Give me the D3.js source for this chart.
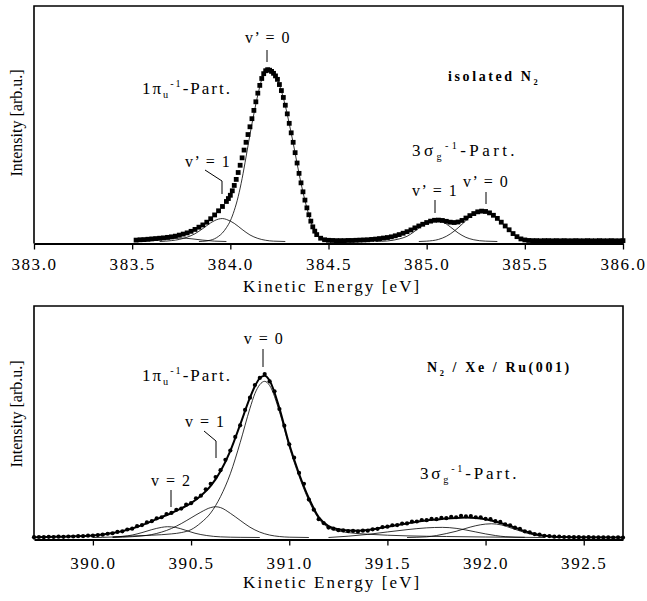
<!DOCTYPE html>
<html>
<head>
<meta charset="utf-8">
<script src="https://cdn.jsdelivr.net/npm/d3@7"></script>
<style>
  body { margin: 0; background: #fff; }
  svg { display: block; }
  text { font-family: "Liberation Serif", "Times New Roman", serif; fill: #000; }
</style>
</head>
<body>
<div id="chart"></div>
<script>
// ---- isolated N2 (top panel) : measured points [energy eV, intensity]
var topData = [
  [383.52,0.8],[383.54,1.0],[383.56,1.1],[383.58,1.3],[383.60,1.5],[383.62,1.7],[383.64,1.9],[383.66,2.1],
  [383.68,2.4],[383.70,2.7],[383.72,3.1],[383.74,3.7],[383.76,4.3],[383.78,5.0],[383.80,5.9],[383.82,7.0],
  [383.84,8.3],[383.86,9.6],[383.88,11.2],[383.90,13.2],[383.92,15.4],[383.94,17.8],[383.96,20.3],
  [383.98,23.2],[383.99,24.9],[384.00,26.8],[384.01,29.4],[384.02,32.5],[384.03,36.0],[384.04,40.0],
  [384.05,44.2],[384.06,48.5],[384.07,53.0],[384.08,57.5],[384.09,62.0],[384.10,66.5],[384.11,71.2],
  [384.12,76.0],[384.13,81.0],[384.14,86.0],[384.15,90.5],[384.16,94.5],[384.17,97.3],[384.18,99.0],
  [384.19,99.6],[384.20,99.3],[384.21,98.6],[384.22,97.5],[384.23,96.0],[384.24,94.0],[384.25,91.0],
  [384.26,87.5],[384.27,83.5],[384.28,79.0],[384.29,74.0],[384.30,68.5],[384.31,63.0],[384.32,57.5],
  [384.33,51.5],[384.34,45.5],[384.35,39.5],[384.36,34.0],[384.37,28.8],[384.38,24.0],[384.39,19.5],
  [384.40,15.5],[384.41,11.8],[384.42,8.5],[384.43,6.0],[384.44,4.0],[384.46,1.9],[384.48,1.0],
  [384.50,0.7],[384.52,0.6],[384.54,0.5],[384.56,0.5],[384.58,0.5],[384.60,0.6],[384.62,0.6],[384.64,0.7],
  [384.66,0.8],[384.68,0.9],[384.70,1.0],[384.72,1.2],[384.74,1.4],[384.76,1.7],[384.78,2.0],[384.80,2.3],
  [384.82,2.7],[384.84,3.3],[384.86,4.0],[384.88,4.8],[384.90,5.7],[384.92,6.7],[384.94,7.9],[384.96,9.0],
  [384.98,10.0],[385.00,11.0],[385.02,11.8],[385.04,12.3],[385.06,12.4],[385.08,12.2],[385.10,11.7],
  [385.12,11.2],[385.14,11.0],[385.16,11.3],[385.18,12.2],[385.20,13.6],[385.22,15.0],[385.24,16.2],
  [385.26,17.2],[385.28,17.6],[385.30,17.4],[385.32,16.6],[385.34,15.2],[385.36,13.4],[385.38,11.2],
  [385.40,9.0],[385.42,6.8],[385.44,4.6],[385.46,2.8],[385.48,1.5],[385.50,0.9],[385.52,0.6],[385.54,0.5],
  [385.56,0.5],[385.58,0.4],[385.60,0.5],[385.62,0.5],[385.64,0.4],[385.66,0.5],[385.68,0.4],[385.70,0.5],
  [385.72,0.4],[385.74,0.4],[385.76,0.5],[385.78,0.4],[385.80,0.4],[385.82,0.5],[385.84,0.4],[385.86,0.4],
  [385.88,0.5],[385.90,0.4],[385.92,0.4],[385.94,0.5],[385.96,0.4],[385.98,0.4],[386.00,0.5]
];
// fitted components, top panel
var topPiV0 = [[383.84,0],[383.88,0.3],[383.90,0.8],[383.92,1.6],[383.94,3.0],[383.96,5.0],[383.98,8.0],
  [384.00,12.0],[384.02,18.0],[384.04,26.0],[384.06,36.5],[384.08,49],[384.10,62],[384.12,74],[384.14,85],
  [384.16,94],[384.18,98.8],[384.20,99.2],[384.22,97.4],[384.24,93.8],[384.26,87.3],[384.28,78.8],
  [384.30,68.3],[384.32,57.2],[384.34,45.2],[384.36,33.8],[384.38,23.8],[384.40,15.3],[384.42,8.3],
  [384.44,3.8],[384.46,1.5],[384.48,0.5],[384.52,0]];
var topPiV1 = [[383.64,0],[383.70,0.5],[383.74,1.2],[383.78,2.5],[383.82,4.5],[383.86,7.5],[383.90,10.8],
  [383.94,13.0],[383.96,13.3],[383.98,12.8],[384.02,10.5],[384.06,7.0],[384.10,3.8],[384.14,1.8],
  [384.18,0.7],[384.22,0.2],[384.28,0]];
var topPiV2 = [[383.52,0],[383.58,0.3],[383.64,0.9],[383.70,1.6],[383.75,2.0],[383.80,1.6],[383.86,0.8],
  [383.92,0.2],[383.98,0]];
var topSigV1 = [[384.74,0],[384.80,0.3],[384.86,1.5],[384.90,3.0],[384.94,6.0],[384.98,9.5],[385.02,11.8],
  [385.05,12.2],[385.08,11.5],[385.12,8.5],[385.16,5.0],[385.20,2.4],[385.24,1.0],[385.30,0.2],[385.36,0]];
var topSigV0 = [[384.96,0],[385.00,0.2],[385.06,1.2],[385.10,3.0],[385.14,6.0],[385.18,10.0],[385.22,14.2],
  [385.26,16.9],[385.29,17.4],[385.32,16.5],[385.36,13.2],[385.40,8.8],[385.44,4.4],[385.48,1.4],
  [385.52,0.3],[385.56,0]];

// ---- N2 / Xe / Ru(001) (bottom panel)
var botData = [
  [389.700,0.2],[389.725,0.3],[389.750,0.2],[389.775,0.4],[389.800,0.3],[389.825,0.5],[389.850,0.4],
  [389.875,0.6],[389.900,0.6],[389.925,0.8],[389.950,0.8],[389.975,1.1],[390.000,1.1],[390.025,1.5],
  [390.050,1.7],[390.075,2.3],[390.100,2.6],[390.125,3.4],[390.150,3.8],[390.175,4.9],[390.200,5.4],
  [390.225,6.9],[390.250,7.6],[390.275,9.2],[390.300,10.0],[390.325,11.7],[390.350,12.4],[390.375,14.3],
  [390.400,15.0],[390.425,16.9],[390.450,17.7],[390.475,20.1],[390.500,21.0],[390.525,24.0],[390.550,25.6],
  [390.575,29.5],[390.600,32.8],[390.625,37.0],[390.650,41.2],[390.675,47.5],[390.700,53.2],[390.725,61.5],
  [390.750,68.6],[390.775,78.0],[390.800,85.5],[390.825,93.2],[390.850,97.6],[390.875,100],[390.900,95.5],
  [390.925,89.4],[390.950,78.6],[390.975,68.4],[391.000,57.0],[391.025,48.8],[391.050,39.5],[391.075,32.8],
  [391.100,23.2],[391.125,17.0],[391.150,11.2],[391.175,8.8],[391.200,6.1],[391.225,5.4],[391.250,4.5],
  [391.275,4.4],[391.300,3.9],[391.325,4.0],[391.350,3.7],[391.375,4.2],[391.400,4.2],[391.425,5.0],
  [391.450,5.3],[391.475,6.4],[391.500,6.6],[391.525,7.5],[391.550,7.6],[391.575,8.5],[391.600,8.6],
  [391.625,9.7],[391.650,9.8],[391.675,10.7],[391.700,10.6],[391.725,11.4],[391.750,11.2],[391.775,12.0],
  [391.800,11.8],[391.825,12.7],[391.850,12.4],[391.875,13.3],[391.900,12.9],[391.925,13.1],[391.950,12.4],
  [391.975,12.4],[392.000,11.4],[392.025,11.2],[392.050,10.0],[392.075,9.5],[392.100,8.1],[392.125,7.5],
  [392.150,6.0],[392.175,5.3],[392.200,3.8],[392.225,3.2],[392.250,2.1],[392.275,1.7],[392.300,1.0],
  [392.325,0.9],[392.350,0.5],[392.375,0.5],[392.400,0.3],[392.425,0.3],[392.450,0.2],[392.475,0.2],
  [392.500,0.1],[392.525,0.2],[392.550,0.1],[392.575,0.1],[392.600,0.1],[392.625,0.1],[392.650,0.0],
  [392.675,0.1],[392.700,0.0]
];
// total fit curve, bottom panel
var botFit = [[389.70,0.2],[389.75,0.3],[389.80,0.4],[389.85,0.5],[389.90,0.7],[389.95,0.9],[390.00,1.2],
  [390.05,1.8],[390.10,2.7],[390.15,3.9],[390.20,5.5],[390.25,7.6],[390.30,10.0],[390.35,12.5],[390.40,15.0],
  [390.45,17.8],[390.50,21.0],[390.55,25.5],[390.60,31.5],[390.65,40.5],[390.70,53],[390.75,69],[390.80,85.5],
  [390.825,92.5],[390.85,97.5],[390.875,99],[390.90,96],[390.95,79],[391.00,57],[391.05,39],[391.10,24],
  [391.15,12.5],[391.20,7.0],[391.25,5.0],[391.30,4.3],[391.35,4.2],[391.40,4.6],[391.45,5.5],[391.50,6.6],
  [391.55,7.6],[391.60,8.6],[391.65,9.6],[391.70,10.4],[391.75,11.0],[391.80,11.6],[391.85,12.0],[391.90,12.2],
  [391.95,12.0],[392.00,11.2],[392.05,9.8],[392.10,8.0],[392.15,6.0],[392.20,3.9],[392.25,2.2],[392.30,1.1],
  [392.35,0.5],[392.40,0.3],[392.50,0.1],[392.70,0]];
var botPiV0 = [[390.10,0.4],[390.20,0.9],[390.30,1.4],[390.40,2.2],[390.45,3.0],[390.50,4.8],[390.55,9.0],
  [390.60,15],[390.65,25],[390.70,39],[390.75,58],[390.80,79],[390.825,88],[390.85,93.5],[390.875,95.5],
  [390.90,93],[390.95,77],[391.00,55.5],[391.05,37.5],[391.10,22.5],[391.15,11.5],[391.20,6.0],[391.25,4.0],
  [391.30,3.0],[391.40,2.0],[391.50,1.4],[391.60,1.0],[391.80,0.6],[392.00,0.3],[392.20,0.1]];
var botPiV1 = [[390.10,0],[390.20,0.5],[390.30,1.8],[390.40,5.5],[390.45,8.5],[390.50,12],[390.55,15.5],
  [390.60,18.3],[390.625,18.8],[390.65,18.3],[390.70,14.8],[390.75,10.5],[390.80,6.3],[390.85,3.3],
  [390.90,1.5],[390.95,0.6],[391.00,0.2],[391.10,0]];
var botPiV2 = [[390.00,0],[390.10,0.3],[390.20,1.5],[390.25,3.0],[390.30,4.8],[390.35,6.2],[390.38,6.6],
  [390.42,6.2],[390.47,4.5],[390.52,2.6],[390.58,1.2],[390.65,0.4],[390.75,0.1],[390.85,0]];
var botSigA = [[391.20,0],[391.30,0.8],[391.40,1.9],[391.50,3.4],[391.60,4.8],[391.70,5.9],[391.78,6.2],
  [391.85,5.6],[391.90,4.6],[391.95,3.4],[392.00,2.2],[392.05,1.2],[392.10,0.5],[392.20,0.1],[392.30,0]];
var botSigB = [[391.60,0],[391.70,0.4],[391.75,1.2],[391.80,2.4],[391.85,3.8],[391.90,5.6],[391.95,7.2],
  [392.00,8.2],[392.03,8.4],[392.08,7.7],[392.13,5.8],[392.18,3.8],[392.23,2.0],[392.30,0.7],[392.40,0.1],
  [392.50,0]];

// tick values
var topMajor = [383.0, 383.5, 384.0, 384.5, 385.0, 385.5, 386.0];
var topMinor = [383.25, 383.75, 384.25, 384.75, 385.25, 385.75];
var botMajor = [390.0, 390.5, 391.0, 391.5, 392.0, 392.5];
var botMinor = [389.75, 390.25, 390.75, 391.25, 391.75, 392.25];

var W = 647, H = 601;
var svg = d3.select("#chart").append("svg").attr("width", W).attr("height", H);
svg.append("rect").attr("width", W).attr("height", H).attr("fill", "#fff");

function panel(p) {
  var x = d3.scaleLinear().domain(p.xDomain).range([34, 623]);
  var y = d3.scaleLinear().domain([0, 100]).range([p.zeroY, p.peakY]);
  var g = svg.append("g");

  // frame
  g.append("path")
    .attr("d", "M34," + p.axisY + "V" + p.frameTop + "H623V" + p.axisY)
    .attr("fill", "none").attr("stroke", "#000").attr("stroke-width", 1.6);

  var line = d3.line().x(function(d) { return x(d[0]); }).y(function(d) { return y(d[1]); })
    .curve(d3.curveMonotoneX);

  // data markers
  if (p.marker == "square") {
    g.selectAll("rect.pt").data(p.data).enter().append("rect")
      .attr("x", function(d) { return x(d[0]) - 2.4; })
      .attr("y", function(d) { return y(d[1]) - 2.4; })
      .attr("width", 4.8).attr("height", 4.8).attr("fill", "#000");
  } else {
    g.selectAll("circle.pt").data(p.data).enter().append("circle")
      .attr("cx", function(d) { return x(d[0]); })
      .attr("cy", function(d) { return y(d[1]); })
      .attr("r", 2.1).attr("fill", "#000");
  }
  if (p.fit) {
    g.append("path").datum(p.fit).attr("d", line)
      .attr("fill", "none").attr("stroke", "#000").attr("stroke-width", 2);
  }
  // components
  p.comps.forEach(function(c) {
    g.append("path").datum(c).attr("d", line)
      .attr("fill", "none").attr("stroke", "#000").attr("stroke-width", 0.8);
  });

  // x axis
  var ax = g.append("g").attr("transform", "translate(0," + p.axisY + ")");
  ax.call(d3.axisBottom(x).tickValues(p.minor).tickSize(4).tickSizeOuter(0).tickFormat(""));
  ax.call(d3.axisBottom(x).tickValues(p.major).tickSize(6).tickSizeOuter(0).tickPadding(p.pad)
    .tickFormat(d3.format(".1f")));
  ax.selectAll(".domain").attr("stroke-width", 2.2);
  ax.selectAll(".tick line").attr("stroke-width", 1.3);
  ax.selectAll(".tick text").attr("font-size", 17).style("letter-spacing", "1.6px")
    .attr("font-family", null);

  g.append("text").attr("x", 243).attr("y", p.titleY).attr("font-size", 17)
    .style("letter-spacing", "2.1px").text("Kinetic Energy [eV]");
  g.append("text").attr("transform", "translate(22," + p.yTitleY + ") rotate(-90)")
    .attr("text-anchor", "middle").attr("font-size", 16).text("Intensity [arb.u.]");
  return g;
}

// label with sub/superscripts: parts = [text, kind]
function rich(g, xx, yy, parts, size, ls, bold) {
  var t = g.append("text").attr("x", xx).attr("y", yy).attr("font-size", size)
    .style("letter-spacing", ls + "px");
  if (bold) t.attr("font-weight", "bold");
  var shift = 0;
  parts.forEach(function(pt) {
    var target = pt[1] == "sub" ? 4 : pt[1] == "sup" ? -7 : 0;
    var s = t.append("tspan").attr("dy", target - shift).text(pt[0]);
    if (pt[1]) s.attr("font-size", size * 0.6);
    shift = target;
  });
  return t;
}
function tick(g, pts) {
  g.append("path").attr("d", d3.line()(pts)).attr("fill", "none")
    .attr("stroke", "#000").attr("stroke-width", 1);
}

var gTop = panel({ xDomain: [383, 386], zeroY: 241.5, peakY: 69, frameTop: 6, axisY: 243.5,
  data: topData, marker: "square", comps: [topPiV0, topPiV1, topPiV2, topSigV1, topSigV0],
  major: topMajor, minor: topMinor, pad: 8, titleY: 292, yTitleY: 123 });

var gBot = panel({ xDomain: [389.7, 392.7], zeroY: 537.5, peakY: 374, frameTop: 306, axisY: 539.5,
  data: botData, marker: "circle", fit: botFit, comps: [botPiV0, botPiV1, botPiV2, botSigA, botSigB],
  major: botMajor, minor: botMinor, pad: 11, titleY: 588, yTitleY: 414 });

// annotations, top
gTop.append("text").attr("x", 268).attr("y", 43).attr("text-anchor", "middle").attr("font-size", 16)
  .style("letter-spacing", "1.5px").text("v\u2019 = 0");
tick(gTop, [[267, 50], [267, 62]]);
rich(gTop, 142, 94, [["1\u03c0"], ["u", "sub"], ["-1", "sup"], ["-Part."]], 17, 2);
gTop.append("text").attr("x", 185).attr("y", 167).attr("font-size", 16)
  .style("letter-spacing", "1.5px").text("v\u2019 = 1");
tick(gTop, [[205, 170], [222, 181], [222, 194]]);
rich(gTop, 448, 81, [["isolated N"], ["2", "sub"]], 14, 2.6, true);
rich(gTop, 412, 156, [["3\u03c3"], ["g", "sub"], ["-1", "sup"], ["-Part."]], 17, 3.4);
gTop.append("text").attr("x", 412).attr("y", 196).attr("font-size", 16)
  .style("letter-spacing", "1.5px").text("v\u2019 = 1");
tick(gTop, [[435, 200], [435, 213]]);
gTop.append("text").attr("x", 463).attr("y", 187).attr("font-size", 16)
  .style("letter-spacing", "1.5px").text("v\u2019 = 0");
tick(gTop, [[486, 192], [486, 204]]);

// annotations, bottom
gBot.append("text").attr("x", 264).attr("y", 344).attr("text-anchor", "middle").attr("font-size", 16)
  .style("letter-spacing", "1.5px").text("v = 0");
tick(gBot, [[263, 349], [263, 367]]);
rich(gBot, 142, 381, [["1\u03c0"], ["u", "sub"], ["-1", "sup"], ["-Part."]], 17, 2);
gBot.append("text").attr("x", 185).attr("y", 427).attr("font-size", 16)
  .style("letter-spacing", "1.5px").text("v = 1");
tick(gBot, [[204, 431], [216, 441], [216, 458]]);
gBot.append("text").attr("x", 151).attr("y", 486).attr("font-size", 16)
  .style("letter-spacing", "1.5px").text("v = 2");
tick(gBot, [[171, 490], [171, 507]]);
rich(gBot, 427, 372, [["N"], ["2", "sub"], [" / Xe / Ru(001)"]], 14, 2.6, true);
rich(gBot, 420, 479, [["3\u03c3"], ["g", "sub"], ["-1", "sup"], ["-Part."]], 17, 2.8);
</script>
</body>
</html>
